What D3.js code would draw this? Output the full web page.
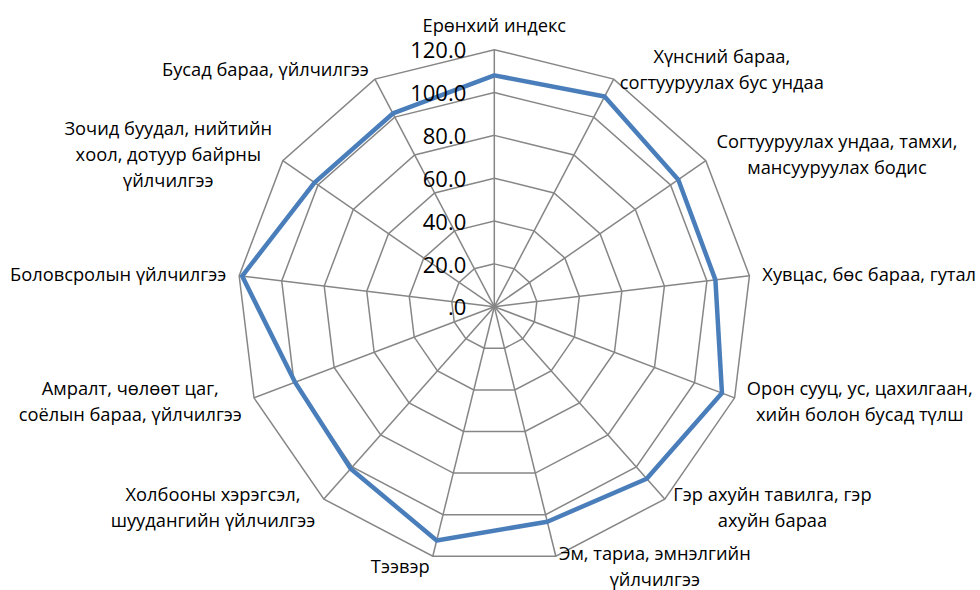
<!DOCTYPE html>
<html>
<head>
<meta charset="utf-8">
<script src="https://cdn.jsdelivr.net/npm/d3@7"></script>
<style>
  body { margin: 0; background: #fff; }
  text { font-family: "Open Sans", "Noto Sans", sans-serif; fill: #000; }
</style>
</head>
<body>
<script>
const WIDTH = 980
const HEIGHT = 590
const CX = 494.3
const CY = 306.7
const RADIUS = 257

const CATEGORIES = [
    ['Ерөнхий индекс'],
    ['Хүнсний бараа,', 'согтууруулах бус ундаа'],
    ['Согтууруулах ундаа, тамхи,', 'мансууруулах бодис'],
    ['Хувцас, бөс бараа, гутал'],
    ['Орон сууц, ус, цахилгаан,', 'хийн болон бусад түлш'],
    ['Гэр ахуйн тавилга, гэр', 'ахуйн бараа'],
    ['Эм, тариа, эмнэлгийн', 'үйлчилгээ'],
    ['Тээвэр'],
    ['Холбооны хэрэгсэл,', 'шуудангийн үйлчилгээ'],
    ['Амралт, чөлөөт цаг,', 'соёлын бараа, үйлчилгээ'],
    ['Боловсролын үйлчилгээ'],
    ['Зочид буудал, нийтийн', 'хоол, дотуур байрны', 'үйлчилгээ'],
    ['Бусад бараа, үйлчилгээ']
]

const VALUES = [108, 110.8, 104.4, 104, 113.7, 107.3, 103.4, 112.4, 101.1, 99.5, 118.6, 102, 101.9]

const TICKS = [0, 20, 40, 60, 80, 100, 120]
const TICK_LABELS = ['.0', '20.0', '40.0', '60.0', '80.0', '100.0', '120.0']

const svg = d3.select('body')
    .append('svg')
    .attr('width', WIDTH)
    .attr('height', HEIGHT)

const n = CATEGORIES.length
const angle = d3.scaleLinear().domain([0, n]).range([0, 2 * Math.PI])
const rScale = d3.scaleLinear().domain([0, 120]).range([0, RADIUS])

const g = svg.append('g')
    .attr('transform', `translate(${CX}, ${CY})`)

const pt = (i, v) => [Math.sin(angle(i)) * rScale(v), -Math.cos(angle(i)) * rScale(v)]

// grid rings
const ring = d3.line().curve(d3.curveLinearClosed)
g.selectAll('path.ring')
    .data(TICKS.filter(t => t > 0))
    .enter()
    .append('path')
    .attr('class', 'ring')
    .attr('d', t => ring(d3.range(n).map(i => pt(i, t))))
    .attr('fill', 'none')
    .attr('stroke', '#868686')
    .attr('stroke-width', 1.5)

// spokes
g.selectAll('line.spoke')
    .data(d3.range(n))
    .enter()
    .append('line')
    .attr('x1', 0)
    .attr('y1', 0)
    .attr('x2', i => pt(i, 120)[0])
    .attr('y2', i => pt(i, 120)[1])
    .attr('stroke', '#868686')
    .attr('stroke-width', 1.5)

// series
g.append('path')
    .attr('d', ring(VALUES.map((v, i) => pt(i, v))))
    .attr('fill', 'none')
    .attr('stroke', '#4a7ebb')
    .attr('stroke-width', 4.5)
    .attr('stroke-linejoin', 'round')

// value axis labels
g.selectAll('text.tick')
    .data(TICKS)
    .enter()
    .append('text')
    .attr('class', 'tick')
    .attr('x', -28)
    .attr('y', t => -rScale(t) + 1)
    .attr('dy', '0.35em')
    .attr('text-anchor', 'end')
    .style('font-size', '22px')
    .text((t, i) => TICK_LABELS[i])

// category labels
const LINE_H = 26
const labels = g.selectAll('g.cat')
    .data(CATEGORIES)
    .enter()
    .append('g')
    .attr('class', 'cat')

labels.each(function (lines, i) {
    const el = d3.select(this)
    const s = Math.sin(angle(i))
    const c = Math.cos(angle(i))
    const [vx, vy] = pt(i, 120)
    const texts = el.selectAll('text')
        .data(lines)
        .enter()
        .append('text')
        .attr('text-anchor', 'middle')
        .attr('dy', '0.35em')
        .style('font-size', '18.3px')
        .text(d => d)
    const w = d3.max(texts.nodes(), t => t.getComputedTextLength())
    const h = lines.length * LINE_H
    let bx
    if (Math.abs(s) < 0.05) bx = vx
    else if (s > 0) bx = vx + s * 13 + w / 2
    else bx = vx + s * 13 - w / 2
    let by = vy - c * 11
    if (Math.abs(s) < 0.05) by -= c * h / 2
    texts.attr('x', bx)
        .attr('y', (d, k) => by + (k - (lines.length - 1) / 2) * LINE_H)
})
</script>
</body>
</html>
